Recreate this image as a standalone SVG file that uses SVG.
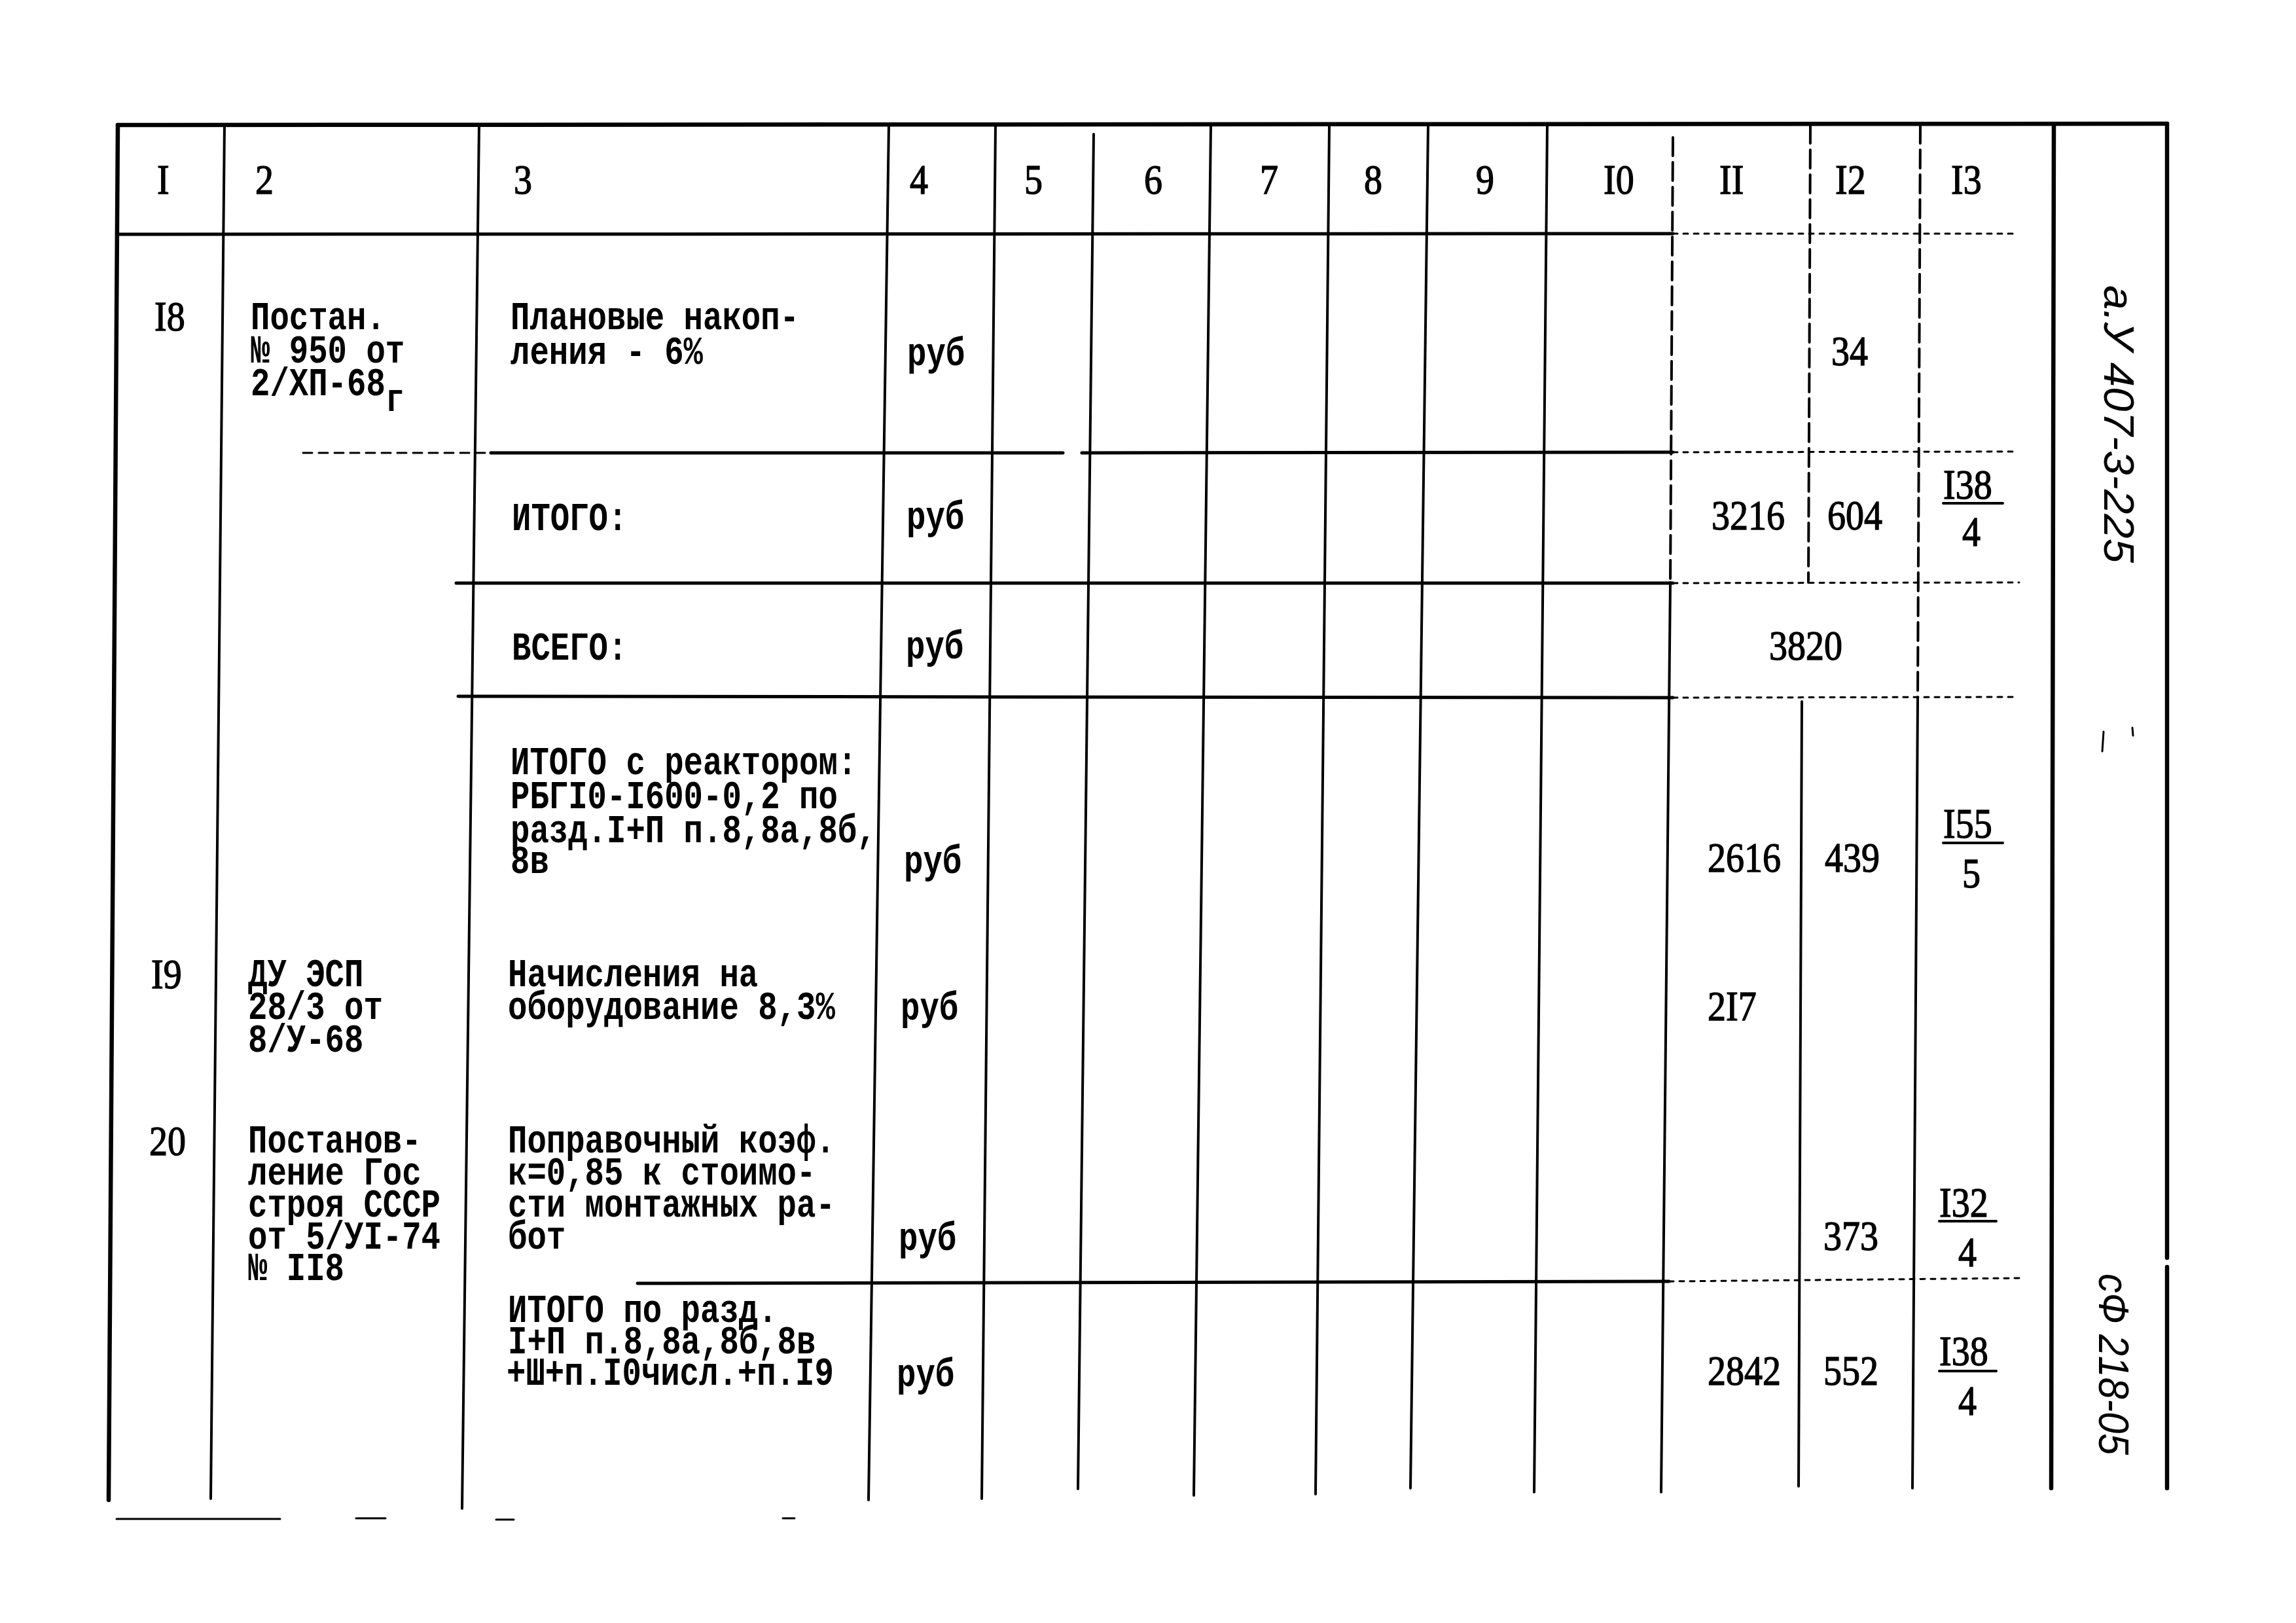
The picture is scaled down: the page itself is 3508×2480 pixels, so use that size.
<svg xmlns="http://www.w3.org/2000/svg" width="3508" height="2480" viewBox="0 0 3508 2480">
<style>
.ln{stroke:#000;stroke-width:4;fill:none;stroke-linecap:round}
.bd{stroke-width:6.5}
.hz{stroke-width:5}
.ds{stroke-dasharray:28 10}
.dt{stroke-dasharray:7 9;stroke-width:3}
.lt{stroke-dasharray:14 10;stroke-width:3}
.t{font-family:"Liberation Mono","DejaVu Sans Mono",monospace;font-weight:bold;font-size:49px;fill:#000}
.n{font-family:"Liberation Serif","DejaVu Serif",serif;font-size:56px;fill:#000;stroke:#000;stroke-width:1.2}
.hw{font-family:"Liberation Sans","DejaVu Sans",sans-serif;font-style:italic;font-size:64px;fill:#000}
</style>
<rect width="3508" height="2480" fill="#fff"/>
<g id="grid">
  <path class="ln bd" d="M180 191 L3311 189"/>
  <path class="ln hz" d="M180 358 L2556 357"/>
  <path class="ln dt" d="M2556 357 L3080 357"/>
  <path class="ln lt" d="M463 692 L750 692"/>
  <path class="ln hz" d="M750 692 L1624 692 M1653 692 L2556 691"/>
  <path class="ln dt" d="M2556 691 L3081 690"/>
  <path class="ln hz" d="M697 891 L2556 891"/>
  <path class="ln dt" d="M2556 891 L3085 890"/>
  <path class="ln hz" d="M700 1064 L2556 1066"/>
  <path class="ln dt" d="M2556 1066 L3080 1065"/>
  <path class="ln hz" d="M974 1961 L2550 1958"/>
  <path class="ln dt" d="M2550 1958 L3085 1953"/>
  <path class="ln" style="stroke-width:3" d="M178 2321 L428 2321 M544 2320 L589 2320 M758 2322 L785 2322 M1196 2320 L1214 2320"/>
  <path class="ln bd" d="M180 191 L166 2292"/>
  <path class="ln" d="M343 191 L322 2290"/>
  <path class="ln" d="M732 191 L706 2305"/>
  <path class="ln" d="M1358 191 L1327 2292"/>
  <path class="ln" d="M1521 191 L1500 2290"/>
  <path class="ln" d="M1671 205 L1647 2275"/>
  <path class="ln" d="M1850 191 L1824 2285"/>
  <path class="ln" d="M2031 191 L2010 2283"/>
  <path class="ln" d="M2182 191 L2155 2274"/>
  <path class="ln" d="M2364 191 L2344 2280"/>
  <path class="ln ds" d="M2556 210 L2552 890"/>
  <path class="ln" d="M2552 890 L2538 2280"/>
  <path class="ln ds" d="M2766 191 L2763 890"/>
  <path class="ln" d="M2753 1072 L2748 2271"/>
  <path class="ln ds" d="M2934 191 L2930 1070"/>
  <path class="ln" d="M2930 1070 L2922 2274"/>
  <path class="ln bd" d="M3138 191 L3134 2274"/>
  <path class="ln bd" d="M3311 189 L3311 1922 M3311 1936 L3311 2274"/>
  <path class="ln" style="stroke-width:3" d="M3214 1118 L3212 1148 M3258 1112 L3259 1124"/>
</g>
<g id="header">
  <text class="n" transform="matrix(1 0 0 1.15 240 296)">I</text>
  <text class="n" transform="matrix(1 0 0 1.15 390 296)">2</text>
  <text class="n" transform="matrix(1 0 0 1.15 785 296)">3</text>
  <text class="n" transform="matrix(1 0 0 1.15 1390 296)">4</text>
  <text class="n" transform="matrix(1 0 0 1.15 1565 296)">5</text>
  <text class="n" transform="matrix(1 0 0 1.15 1748 296)">6</text>
  <text class="n" transform="matrix(1 0 0 1.15 1925 296)">7</text>
  <text class="n" transform="matrix(1 0 0 1.15 2084 296)">8</text>
  <text class="n" transform="matrix(1 0 0 1.15 2255 296)">9</text>
  <text class="n" transform="matrix(1 0 0 1.15 2450 296)">I0</text>
  <text class="n" transform="matrix(1 0 0 1.15 2627 296)">II</text>
  <text class="n" transform="matrix(1 0 0 1.15 2804 296)">I2</text>
  <text class="n" transform="matrix(1 0 0 1.15 2981 296)">I3</text>
</g>
<g id="row18">
  <text class="n" transform="matrix(1 0 0 1.15 236 505)">I8</text>
  <text class="t" transform="matrix(1 0 0 1.25 383 503)">Постан.</text>
  <text class="t" transform="matrix(1 0 0 1.25 383 554)">№ 950 от</text>
  <text class="t" transform="matrix(1 0 0 1.25 383 604)">2/ХП-68<tspan dy="19">г</tspan></text>
  <text class="t" transform="matrix(1 0 0 1.25 780 503)">Плановые накоп-</text>
  <text class="t" transform="matrix(1 0 0 1.25 780 556)">ления - 6%</text>
  <text class="t" transform="matrix(1 0 0 1.25 1386 558)">руб</text>
  <text class="n" transform="matrix(1 0 0 1.15 2798 558)">34</text>
</g>
<g id="row-itogo">
  <text class="t" transform="matrix(1 0 0 1.25 782 810)">ИТОГО:</text>
  <text class="t" transform="matrix(1 0 0 1.25 1385 808)">руб</text>
  <text class="n" transform="matrix(1 0 0 1.15 2615 809)">3216</text>
  <text class="n" transform="matrix(1 0 0 1.15 2792 809)">604</text>
  <text class="n" transform="matrix(1 0 0 1.15 2969 762)">I38</text>
  <path class="ln" d="M2969 769 L3060 769"/>
  <text class="n" transform="matrix(1 0 0 1.15 2998 834)">4</text>
</g>
<g id="row-vsego">
  <text class="t" transform="matrix(1 0 0 1.25 782 1008)">ВСЕГО:</text>
  <text class="t" transform="matrix(1 0 0 1.25 1384 1006)">руб</text>
  <text class="n" transform="matrix(1 0 0 1.15 2703 1008)">3820</text>
</g>
<g id="row-itogo-reactor">
  <text class="t" transform="matrix(1 0 0 1.25 780 1183)">ИТОГО с реактором:</text>
  <text class="t" transform="matrix(1 0 0 1.25 780 1235)">РБГI0-I600-0,2 по</text>
  <text class="t" transform="matrix(1 0 0 1.25 780 1287)">разд.I+П п.8,8а,8б,</text>
  <text class="t" transform="matrix(1 0 0 1.25 780 1334)">8в</text>
  <text class="t" transform="matrix(1 0 0 1.25 1381 1334)">руб</text>
  <text class="n" transform="matrix(1 0 0 1.15 2609 1332)">2616</text>
  <text class="n" transform="matrix(1 0 0 1.15 2788 1332)">439</text>
  <text class="n" transform="matrix(1 0 0 1.15 2969 1280)">I55</text>
  <path class="ln" d="M2969 1288 L3060 1288"/>
  <text class="n" transform="matrix(1 0 0 1.15 2998 1356)">5</text>
</g>
<g id="row19">
  <text class="n" transform="matrix(1 0 0 1.15 231 1510)">I9</text>
  <text class="t" transform="matrix(1 0 0 1.25 379 1507)">ДУ ЭСП</text>
  <text class="t" transform="matrix(1 0 0 1.25 379 1557)">28/3 от</text>
  <text class="t" transform="matrix(1 0 0 1.25 379 1607)">8/У-68</text>
  <text class="t" transform="matrix(1 0 0 1.25 776 1507)">Начисления на</text>
  <text class="t" transform="matrix(1 0 0 1.25 776 1557)">оборудование 8,3%</text>
  <text class="t" transform="matrix(1 0 0 1.25 1376 1558)">руб</text>
  <text class="n" transform="matrix(1 0 0 1.15 2609 1559)">2I7</text>
</g>
<g id="row20">
  <text class="n" transform="matrix(1 0 0 1.15 228 1765)">20</text>
  <text class="t" transform="matrix(1 0 0 1.25 379 1761)">Постанов-</text>
  <text class="t" transform="matrix(1 0 0 1.25 379 1810)">ление Гос</text>
  <text class="t" transform="matrix(1 0 0 1.25 379 1859)">строя СССР</text>
  <text class="t" transform="matrix(1 0 0 1.25 379 1908)">от 5/УI-74</text>
  <text class="t" transform="matrix(1 0 0 1.25 379 1956)">№ II8</text>
  <text class="t" transform="matrix(1 0 0 1.25 776 1761)">Поправочный коэф.</text>
  <text class="t" transform="matrix(1 0 0 1.25 776 1810)">к=0,85 к стоимо-</text>
  <text class="t" transform="matrix(1 0 0 1.25 776 1859)">сти монтажных ра-</text>
  <text class="t" transform="matrix(1 0 0 1.25 776 1908)">бот</text>
  <text class="t" transform="matrix(1 0 0 1.25 1373 1910)">руб</text>
  <text class="n" transform="matrix(1 0 0 1.15 2786 1910)">373</text>
  <text class="n" transform="matrix(1 0 0 1.15 2963 1859)">I32</text>
  <path class="ln" d="M2963 1866 L3050 1866"/>
  <text class="n" transform="matrix(1 0 0 1.15 2992 1935)">4</text>
</g>
<g id="row-itogo-razd">
  <text class="t" transform="matrix(1 0 0 1.25 776 2020)">ИТОГО по разд.</text>
  <text class="t" transform="matrix(1 0 0 1.25 776 2068)">I+П п.8,8а,8б,8в</text>
  <text class="t" transform="matrix(1 0 0 1.25 774 2116)">+Ш+п.I0числ.+п.I9</text>
  <text class="t" transform="matrix(1 0 0 1.25 1370 2118)">руб</text>
  <text class="n" transform="matrix(1 0 0 1.15 2609 2116)">2842</text>
  <text class="n" transform="matrix(1 0 0 1.15 2786 2116)">552</text>
  <text class="n" transform="matrix(1 0 0 1.15 2963 2086)">I38</text>
  <path class="ln" d="M2963 2095 L3050 2095"/>
  <text class="n" transform="matrix(1 0 0 1.15 2992 2162)">4</text>
</g>
<g id="side-notes">
  <text class="hw" x="3215" y="436" textLength="424" lengthAdjust="spacingAndGlyphs" transform="rotate(90 3215 436)">а.У 407-3-225</text>
  <text class="hw" x="3207" y="1946" textLength="277" lengthAdjust="spacingAndGlyphs" transform="rotate(90 3207 1946)">сФ 218-05</text>
</g>
</svg>
